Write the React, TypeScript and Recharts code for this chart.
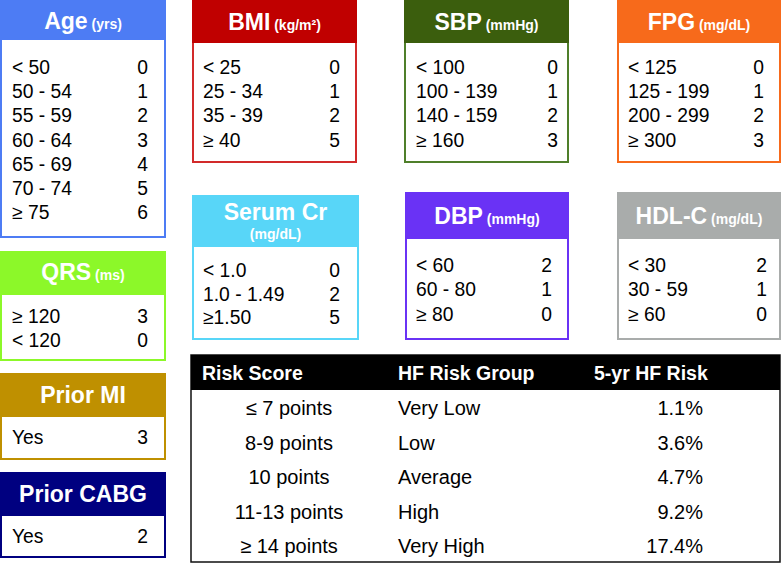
import React from 'react';
import { Surface, Layer, Rectangle, Text } from 'recharts';

// score tables
const ageLabels = ['< 50', '50 - 54', '55 - 59', '60 - 64', '65 - 69', '70 - 74', '≥ 75'];
const agePoints = [0, 1, 2, 3, 4, 5, 6];
const bmiLabels = ['< 25', '25 - 34', '35 - 39', '≥ 40'];
const bmiPoints = [0, 1, 2, 5];
const sbpLabels = ['< 100', '100 - 139', '140 - 159', '≥ 160'];
const sbpPoints = [0, 1, 2, 3];
const fpgLabels = ['< 125', '125 - 199', '200 - 299', '≥ 300'];
const fpgPoints = [0, 1, 2, 3];
const crLabels = ['< 1.0', '1.0 - 1.49', '≥1.50'];
const crPoints = [0, 2, 5];
const dbpLabels = ['< 60', '60 - 80', '≥ 80'];
const dbpPoints = [2, 1, 0];
const hdlLabels = ['< 30', '30 - 59', '≥ 60'];
const hdlPoints = [2, 1, 0];
const qrsLabels = ['≥ 120', '< 120'];
const qrsPoints = [3, 0];
const miLabels = ['Yes'];
const miPoints = [3];
const cabgLabels = ['Yes'];
const cabgPoints = [2];

// risk summary
const riskHeaders = ['Risk Score', 'HF Risk Group', '5-yr HF Risk'];
const riskScores = ['≤ 7 points', '8-9 points', '10 points', '11-13 points', '≥ 14 points'];
const riskGroups = ['Very Low', 'Low', 'Average', 'High', 'Very High'];
const riskPercents = ['1.1%', '3.6%', '4.7%', '9.2%', '17.4%'];

const FONT = '"Liberation Sans", Arial, Helvetica, sans-serif';

type Panel = {
  title: string;
  unit?: string;
  unitBelow?: boolean;
  labels: string[];
  points: number[];
  color: string;
  border?: string;
  x: number; y: number; w: number; h: number;
  headH: number; titleY: number; unitY?: number;
  row0: number; step: number; textX: number; valX: number;
};

const panels: Panel[] = [
  { title: 'Age', unit: '(yrs)', labels: ageLabels, points: agePoints, color: '#4d7cf4',
    x: 0, y: 0, w: 166, h: 238, headH: 40, titleY: 28.5, row0: 74, step: 24.2, textX: 12, valX: 148 },
  { title: 'BMI', unit: '(kg/m²)', labels: bmiLabels, points: bmiPoints, color: '#c00000', border: '#d22a2a',
    x: 192, y: 0, w: 165, h: 163, headH: 43, titleY: 29.5, row0: 74, step: 24.2, textX: 203, valX: 340 },
  { title: 'SBP', unit: '(mmHg)', labels: sbpLabels, points: sbpPoints, color: '#3b5e0d', border: '#4f7f2a',
    x: 404, y: 0, w: 165, h: 163, headH: 43, titleY: 29.5, row0: 74, step: 24.2, textX: 416, valX: 558 },
  { title: 'FPG', unit: '(mg/dL)', labels: fpgLabels, points: fpgPoints, color: '#f76a1b',
    x: 617, y: 0, w: 164, h: 163, headH: 43, titleY: 29.5, row0: 74, step: 24.2, textX: 628, valX: 764 },
  { title: 'Serum Cr', unit: '(mg/dL)', unitBelow: true, labels: crLabels, points: crPoints, color: '#58d6f8',
    x: 192, y: 195, w: 167, h: 145, headH: 52, titleY: 220, unitY: 239, row0: 277, step: 23.7, textX: 203, valX: 340 },
  { title: 'DBP', unit: '(mmHg)', labels: dbpLabels, points: dbpPoints, color: '#6a32f5',
    x: 405, y: 192, w: 164, h: 148, headH: 47, titleY: 224, row0: 272, step: 24.3, textX: 416, valX: 552 },
  { title: 'HDL-C', unit: '(mg/dL)', labels: hdlLabels, points: hdlPoints, color: '#a9acab',
    x: 617, y: 192, w: 164, h: 148, headH: 47, titleY: 224, row0: 272, step: 24.3, textX: 628, valX: 767 },
  { title: 'QRS', unit: '(ms)', labels: qrsLabels, points: qrsPoints, color: '#8cf829',
    x: 0, y: 251, w: 166, h: 110, headH: 44, titleY: 280, row0: 323, step: 24, textX: 12, valX: 148 },
  { title: 'Prior MI', labels: miLabels, points: miPoints, color: '#bf9000',
    x: 0, y: 373, w: 166, h: 87, headH: 44, titleY: 403, row0: 444, step: 24, textX: 12, valX: 148 },
  { title: 'Prior CABG', labels: cabgLabels, points: cabgPoints, color: '#000080',
    x: 0, y: 472, w: 166, h: 86, headH: 44, titleY: 502, row0: 543, step: 24, textX: 12, valX: 148 },
];

const ScorePanel = ({ p }: { p: Panel }) => {
  const cx = p.x + p.w / 2;
  return (
    <Layer>
      <Rectangle x={p.x + 1} y={p.y + 1} width={p.w - 2} height={p.h - 2}
        fill="#fff" stroke={p.border || p.color} strokeWidth={2} />
      <Rectangle x={p.x} y={p.y} width={p.w} height={p.headH} fill={p.color} />
      <text x={cx} y={p.titleY} textAnchor="middle" fill="#fff" fontFamily={FONT} fontWeight="bold">
        <tspan fontSize={23}>{p.title}</tspan>
        {p.unit && !p.unitBelow && <tspan fontSize={14}>{' ' + p.unit}</tspan>}
      </text>
      {p.unit && p.unitBelow && (
        <text x={cx} y={p.unitY} textAnchor="middle" fill="#fff" fontFamily={FONT}
          fontWeight="bold" fontSize={14}>{p.unit}</text>
      )}
      {p.labels.map((lab, i) => (
        <Layer key={lab}>
          <Text x={p.textX} y={p.row0 + i * p.step} textAnchor="start" fontSize={19.3}
            fontFamily={FONT} fill="#000">{lab}</Text>
          <Text x={p.valX} y={p.row0 + i * p.step} textAnchor="end" fontSize={19.3}
            fontFamily={FONT} fill="#000">{String(p.points[i])}</Text>
        </Layer>
      ))}
    </Layer>
  );
};

const RiskTable = () => {
  const x = 191, y = 355, w = 589, h = 207, headH = 35;
  const row0 = 415, step = 34.5;
  return (
    <Layer>
      <Rectangle x={x} y={y} width={w} height={h} fill="#fff" stroke="#111" strokeWidth={1.5} />
      <Rectangle x={x} y={y} width={w} height={headH} fill="#000" />
      <text x={202} y={380} fill="#fff" fontFamily={FONT} fontWeight="bold" fontSize={19.5}>{riskHeaders[0]}</text>
      <text x={398} y={380} fill="#fff" fontFamily={FONT} fontWeight="bold" fontSize={19.5}>{riskHeaders[1]}</text>
      <text x={594} y={380} fill="#fff" fontFamily={FONT} fontWeight="bold" fontSize={19.5}>{riskHeaders[2]}</text>
      {riskScores.map((s, i) => (
        <Layer key={s}>
          <Text x={289} y={row0 + i * step} textAnchor="middle" fontSize={20} fontFamily={FONT} fill="#000">{s}</Text>
          <Text x={398} y={row0 + i * step} textAnchor="start" fontSize={20} fontFamily={FONT} fill="#000">{riskGroups[i]}</Text>
          <Text x={703} y={row0 + i * step} textAnchor="end" fontSize={20} fontFamily={FONT} fill="#000">{riskPercents[i]}</Text>
        </Layer>
      ))}
    </Layer>
  );
};

export default function App() {
  return (
    <div style={{ position: 'absolute', left: 0, top: 0, width: 782, height: 564, background: '#fff' }}>
      <Surface width={782} height={564}>
        {panels.map((p) => (
          <ScorePanel key={p.title} p={p} />
        ))}
        <RiskTable />
      </Surface>
    </div>
  );
}
